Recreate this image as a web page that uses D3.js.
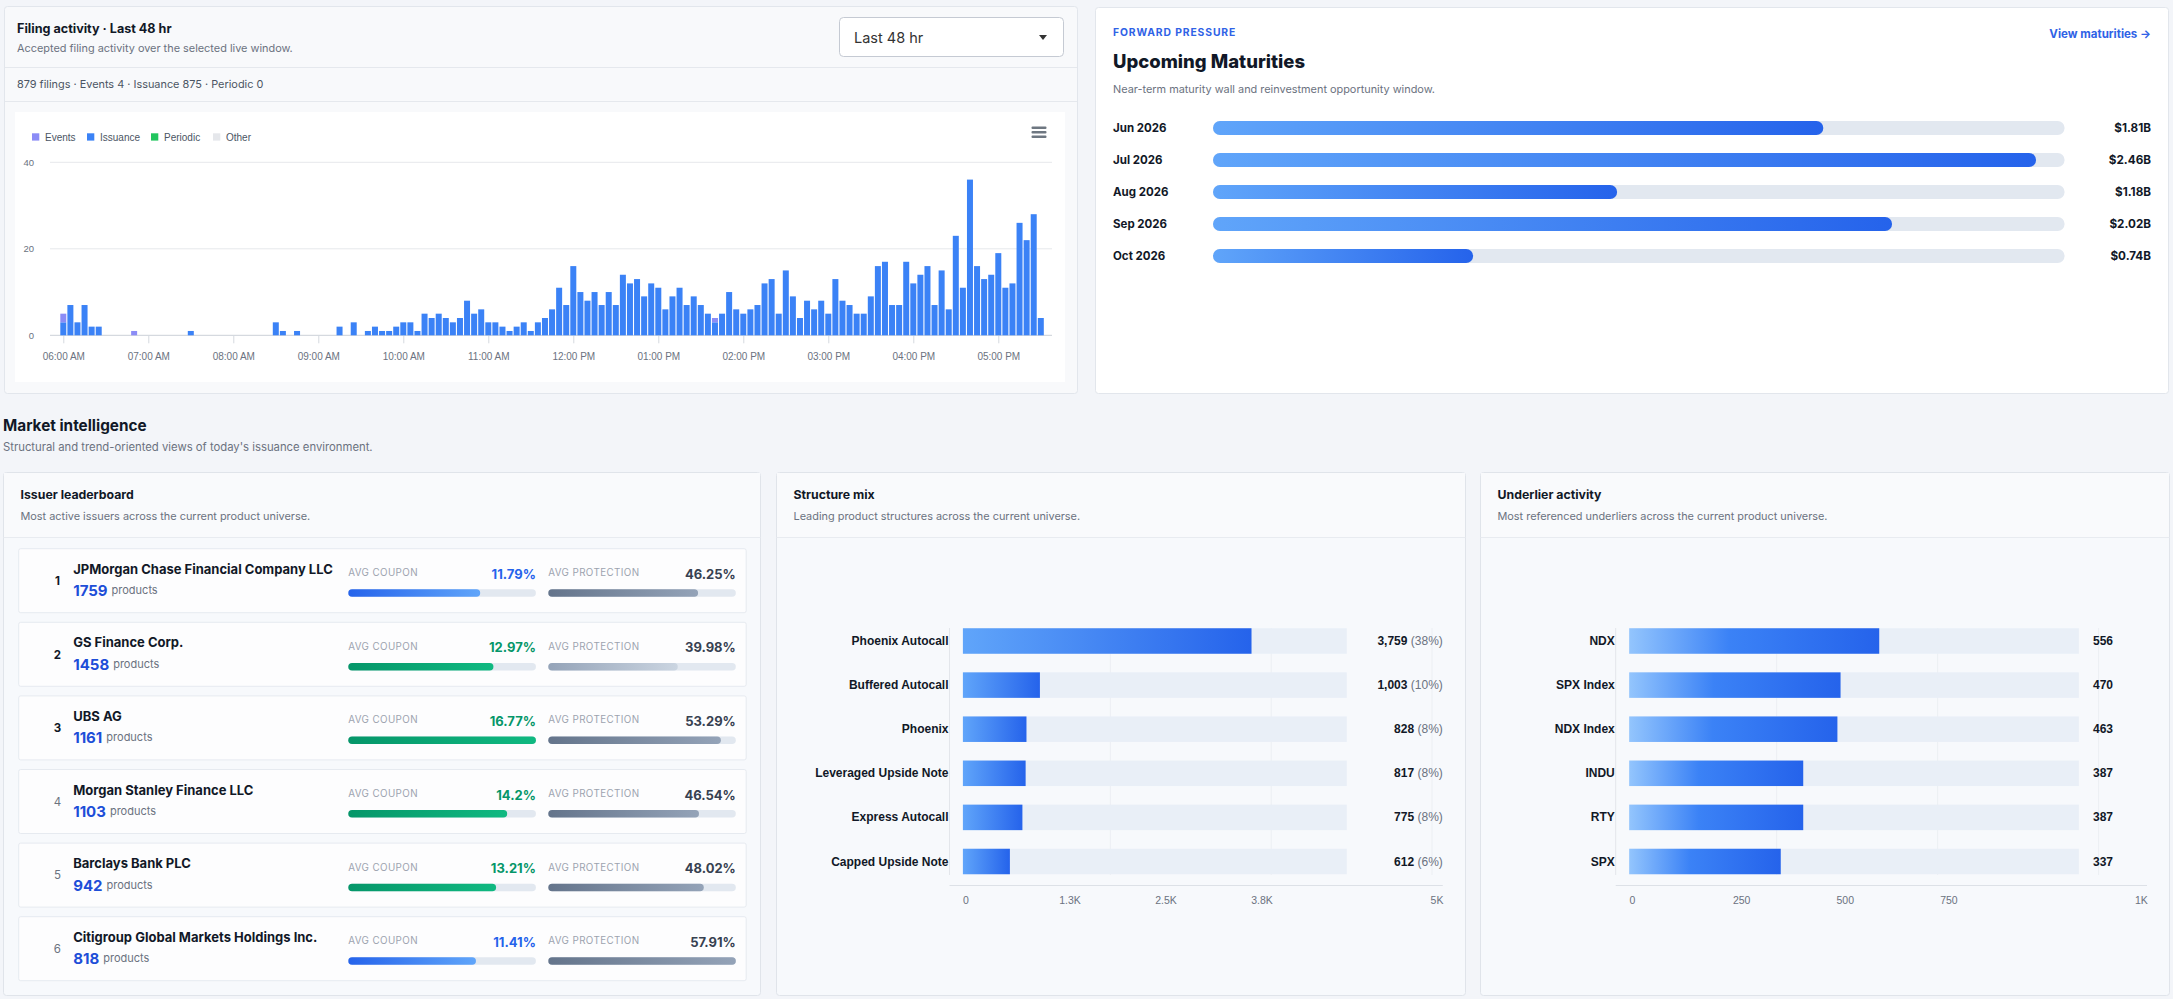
<!DOCTYPE html>
<html><head><meta charset="utf-8">
<script src="https://cdn.jsdelivr.net/npm/d3@7"></script>
<style>
html,body{margin:0;padding:0;background:#f3f5f9;overflow:hidden;}
svg{display:block;font-family:Inter,"Noto Sans",sans-serif;}
</style></head><body>
<svg id="c" width="2173" height="999"></svg>
<script>
// ---------------- DATA ----------------
const filingStart = "06:00";            // first 5-minute bin
const filingBinMinutes = 5;
const filingIssuance = [
  3,7,3,7,2,2, 0,0,0,0,0,0,0,0,0,0,0,0, 1, 0,0,0,0,0,0,0,0,0,0,0, 3,1,0,1, 0,0,0,0,0,
  2,0,3,0,1,2,1,1,2,
  3,3,1,5,4,5,4,3,4,8,5,6,3,3,2,1,2,3,1,3,4,6,11,7,16,10,8,10,7,
  10,7,14,12,13,9,12,11,6,9,11,7,9,7,5,3,5,10,6,5,6,7,12,13,5,15,9,4,8,6,8,5,13,8,7,5,5,
  9,16,17,7,7,17,12,14,16,7,15,6,23,11,36,16,13,14,19,11,12,26,22,28,4
];
const filingEvents = [
  2,0,0,0,0,0,0,0,0,0,1,0,0,0,0,0,0,0,0,0,0,0,0,0,0,0,0,0,0,0,0,0,0,0,0,0,0,0,0,
  0,0,0,0,0,0,0,0,0,
  0,0,0,0,0,0,0,0,0,0,0,0,0,0,0,0,0,0,0,0,0,0,0,0,0,0,0,0,0,
  0,0,0,0,0,0,0,0,0,0,0,0,0,0,0,1,0,0,0,0,0,0,0,0,0,0,0,0,0,0,0,0,0,0,0,0,0,
  0,0,0,0,0,0,0,0,0,0,0,0,0,0,0,0,0,0,0,0,0,0,0,0,0
];
const filingSeries = ["Events","Issuance","Periodic","Other"];
const filingSeriesColors = ["#8b8cf6","#3b82f6","#22c55e","#e5e7eb"];
const filingYTicks = [0,20,40];
const filingXTicks = ["06:00","07:00","08:00","09:00","10:00","11:00","12:00","13:00","14:00","15:00","16:00","17:00"];
const filingStats = {filings:879, events:4, issuance:875, periodic:0};

const maturityMonths = ["Jun 2026","Jul 2026","Aug 2026","Sep 2026","Oct 2026"];
const maturityValues = [1.81,2.46,1.18,2.02,0.74]; // $B

const issuerNames = ["JPMorgan Chase Financial Company LLC","GS Finance Corp.","UBS AG","Morgan Stanley Finance LLC","Barclays Bank PLC","Citigroup Global Markets Holdings Inc."];
const issuerProducts = [1759,1458,1161,1103,942,818];
const issuerCoupon = [11.79,12.97,16.77,14.2,13.21,11.41];
const issuerProtection = [46.25,39.98,53.29,46.54,48.02,57.91];

const structureNames = ["Phoenix Autocall","Buffered Autocall","Phoenix","Leveraged Upside Note","Express Autocall","Capped Upside Note"];
const structureCounts = [3759,1003,828,817,775,612];
const structurePct = [38,10,8,8,8,6];
const structureTicks = [0,1250,2500,3750,5000];

const underlierNames = ["NDX","SPX Index","NDX Index","INDU","RTY","SPX"];
const underlierCounts = [556,470,463,387,387,337];
const underlierTicks = [0,250,500,750,1000];

// ---------------- HELPERS ----------------
const CHART_FONT = "'Liberation Sans',Arial,Helvetica,sans-serif";
const svg = d3.select("#c");
const defs = svg.append("defs");
function grad(id, stops){
  const g = defs.append("linearGradient").attr("id",id).attr("x1","0%").attr("x2","100%").attr("y1","0%").attr("y2","0%");
  stops.forEach(s=>g.append("stop").attr("offset",s[0]).attr("stop-color",s[1]));
}
grad("gBlueR",[["0%","#60a5fa"],["100%","#2563eb"]]);
grad("gUnder",[["0%","#93c5fd"],["40%","#3b82f6"],["100%","#2563eb"]]);
grad("gCouponBlue",[["0%","#2563eb"],["100%","#60a5fa"]]);
grad("gCouponGreen",[["0%","#059669"],["100%","#10b981"]]);
grad("gProt",[["0%","#64748b"],["100%","#94a3b8"]]);
grad("gProtLight",[["0%","#94a3b8"],["100%","#cbd5e1"]]);

function txt(g,x,y,s,o){
  o=o||{};
  const t = g.append("text").attr("x",x).attr("y",y).attr("dominant-baseline","central")
    .attr("font-size",o.size||11).attr("font-weight",o.weight||400).attr("fill",o.fill||"#111827")
    .attr("text-anchor",o.anchor||"start").attr("letter-spacing",o.ls||null).text(s);
  if(o.font) t.attr("font-family",o.font);
  return t;
}
function line(g,x1,y1,x2,y2,c,w){
  return g.append("line").attr("x1",x1).attr("y1",y1).attr("x2",x2).attr("y2",y2).attr("stroke",c).attr("stroke-width",w||1);
}

// ---------------- FILING ACTIVITY CARD ----------------
const fa = svg.append("g");
fa.append("rect").attr("x",4.5).attr("y",6.5).attr("width",1073).attr("height",387).attr("rx",3)
  .attr("fill","#f8f9fb").attr("stroke","#e2e6ec");
txt(fa,17,28.5,"Filing activity · Last 48 hr",{size:12.6,weight:700});
txt(fa,17,48,"Accepted filing activity over the selected live window.",{size:10.9,fill:"#6b7280"});
// dropdown
fa.append("rect").attr("x",839.5).attr("y",17.5).attr("width",224).attr("height",39).attr("rx",4)
  .attr("fill","#fff").attr("stroke","#c5cad3");
txt(fa,854,37.5,"Last 48 hr",{size:14.5,fill:"#333"});
fa.append("path").attr("d","M1039,35 L1047,35 L1043,40 Z").attr("fill","#333");
line(fa,5,67.5,1077,67.5,"#e5e8ed");
txt(fa,17,84,`${filingStats.filings} filings · Events ${filingStats.events} · Issuance ${filingStats.issuance} · Periodic ${filingStats.periodic}`,{size:10.9,fill:"#4b5563"});
line(fa,5,101.5,1077,101.5,"#e5e8ed");
fa.append("rect").attr("x",15).attr("y",112).attr("width",1050).attr("height",270).attr("fill","#fff");

// legend
const legX = [32,87,151,213];
filingSeries.forEach((s,i)=>{
  fa.append("rect").attr("x",legX[i]).attr("y",133.3).attr("width",7.3).attr("height",7.3).attr("fill",filingSeriesColors[i]);
  txt(fa,legX[i]+13,137,s,{size:10,fill:"#4b5563",font:CHART_FONT});
});
// menu icon
[126.5,131,135.5].forEach(yy=>fa.append("rect").attr("x",1031.5).attr("y",yy).attr("width",15).attr("height",2.6).attr("rx",1).attr("fill","#6e7781"));

const parseT = d3.timeParse("%H:%M");
const t0 = parseT(filingStart);
const binTimes = filingIssuance.map((d,i)=>d3.timeMinute.offset(t0,i*filingBinMinutes));
const fx = d3.scaleTime().domain([t0, binTimes[binTimes.length-1]]).range([63.3,1040.8]);
const fy = d3.scaleLinear().domain([0,40]).range([335.3,162.3]);

// gridlines
filingYTicks.forEach(v=>{
  line(fa,50,fy(v),1052,fy(v), v===0?"#d5d9df":"#e6e8ec", v===0?1.2:1);
  txt(fa,34,fy(v),String(v),{size:9.5,fill:"#6b7280",anchor:"end",font:CHART_FONT});
});
// x axis
const xAxisG = fa.append("g").attr("transform",`translate(0,${fy(0)})`)
  .call(d3.axisBottom(fx).tickValues(filingXTicks.map(parseT)).tickSize(8).tickFormat(d3.timeFormat("%I:%M %p")));
xAxisG.select(".domain").remove();
xAxisG.selectAll(".tick line").attr("stroke","#d5d9df");
xAxisG.selectAll(".tick text").attr("y",21.4).attr("dy","0.35em").attr("font-size",10)
  .attr("fill","#6b7280").attr("font-family",CHART_FONT);

// bars
const bw = 6;
fa.append("g").selectAll("rect").data(filingIssuance).join("rect")
  .attr("x",(d,i)=>fx(binTimes[i])-bw/2).attr("width",bw)
  .attr("y",d=>fy(d)).attr("height",d=>fy(0)-fy(d)).attr("fill",filingSeriesColors[1]);
fa.append("g").selectAll("rect").data(filingEvents).join("rect")
  .attr("x",(d,i)=>fx(binTimes[i])-bw/2).attr("width",bw)
  .attr("y",(d,i)=>fy(d+filingIssuance[i])).attr("height",(d,i)=>fy(filingIssuance[i])-fy(d+filingIssuance[i]))
  .attr("fill",filingSeriesColors[0]);

// ---------------- UPCOMING MATURITIES CARD ----------------
const um = svg.append("g");
um.append("rect").attr("x",1095.5).attr("y",7.5).attr("width",1073).attr("height",386).attr("rx",3)
  .attr("fill","#fff").attr("stroke","#e2e6ec");
txt(um,1113,32,"FORWARD PRESSURE",{size:10.3,weight:700,fill:"#2f62e6",ls:"0.9"});
txt(um,2151,34,"View maturities →",{size:11.5,weight:700,fill:"#2f62e6",anchor:"end"});
txt(um,1113,61,"Upcoming Maturities",{size:18.5,weight:800});
txt(um,1113,89,"Near-term maturity wall and reinvestment opportunity window.",{size:10.9,fill:"#6b7280"});
const my = d3.scalePoint().domain(maturityMonths).range([128,256]);
const trackX0 = 1213, trackX1 = 2064.6;
const mx = d3.scaleLinear().domain([0,2.6]).range([1230.9,2081.9]);
maturityMonths.forEach((m,i)=>{
  const yc = my(m);
  txt(um,1113,yc,m,{size:11.5,weight:700});
  um.append("rect").attr("x",trackX0).attr("y",yc-7).attr("width",trackX1-trackX0).attr("height",14).attr("rx",7).attr("fill","#e2e8f0");
  um.append("rect").attr("x",trackX0).attr("y",yc-7).attr("width",mx(maturityValues[i])-trackX0).attr("height",14).attr("rx",7).attr("fill","url(#gBlueR)");
  txt(um,2151,yc,"$"+maturityValues[i].toFixed(2)+"B",{size:11.7,weight:700,anchor:"end"});
});

// ---------------- MARKET INTELLIGENCE ----------------
const mi = svg.append("g");
txt(mi,3,425,"Market intelligence",{size:15.3,weight:700});
txt(mi,3,446.5,"Structural and trend-oriented views of today's issuance environment.",{size:11.3,fill:"#6b7280"});

function bottomCard(x,w,title,sub){
  const g = svg.append("g");
  g.append("rect").attr("x",x).attr("y",472.5).attr("width",w).attr("height",523).attr("rx",3)
    .attr("fill","#f7f9fc").attr("stroke","#e0e4ea");
  g.append("rect").attr("x",x+0.5).attr("y",473).attr("width",w-1).attr("height",64).attr("fill","#f9fafc");
  line(g,x,537.5,x+w,537.5,"#e8ebf0");
  txt(g,x+17,494.5,title,{size:12.3,weight:700});
  txt(g,x+17,516,sub,{size:10.9,fill:"#6b7280"});
  return g;
}

// Issuer leaderboard
const il = bottomCard(3.5,757,"Issuer leaderboard","Most active issuers across the current product universe.");
const rowY = d3.scalePoint().domain(d3.range(issuerNames.length)).range([548.7,916.7]);
const cX = d3.scaleLinear().domain([0,d3.max(issuerCoupon)]).range([348.3,535.9]);
const pX = d3.scaleLinear().domain([0,d3.max(issuerProtection)]).range([548.3,735.8]);
issuerNames.forEach((n,i)=>{
  const t = rowY(i);
  il.append("rect").attr("x",18.7).attr("y",t).attr("width",727.5).attr("height",64).attr("rx",2)
    .attr("fill","#fdfdfe").attr("stroke","#e6eaf0");
  txt(il,57.4,t+32.3,String(i+1),{size:11.5,weight:i<3?700:400,fill:i<3?"#111827":"#6b7280",anchor:"middle"});
  txt(il,73.2,t+20,n,{size:13,weight:700});
  const pt = il.append("text").attr("x",73.2).attr("y",t+41.5).attr("dominant-baseline","central");
  pt.append("tspan").attr("font-size",15).attr("font-weight",700).attr("fill","#1d4ed8").text(issuerProducts[i]);
  pt.append("tspan").attr("dx",4).attr("font-size",11).attr("fill","#6b7280").text("products");
  const cBlue = issuerCoupon[i] < 12;
  txt(il,348.3,t+24,"AVG COUPON",{size:9.8,fill:"#9ca3af",ls:"0.4"});
  txt(il,535.9,t+25,issuerCoupon[i]+"%",{size:13,weight:700,fill:cBlue?"#2563eb":"#059669",anchor:"end"});
  il.append("rect").attr("x",cX(0)).attr("y",t+40.6).attr("width",cX(d3.max(issuerCoupon))-cX(0)).attr("height",7.5).attr("rx",3.75).attr("fill","#e2e8f0");
  il.append("rect").attr("x",cX(0)).attr("y",t+40.6).attr("width",cX(issuerCoupon[i])-cX(0)).attr("height",7.5).attr("rx",3.75)
    .attr("fill",cBlue?"url(#gCouponBlue)":"url(#gCouponGreen)");
  txt(il,548.3,t+24,"AVG PROTECTION",{size:9.8,fill:"#9ca3af",ls:"0.4"});
  txt(il,735.8,t+25,issuerProtection[i]+"%",{size:13,weight:700,fill:"#374151",anchor:"end"});
  il.append("rect").attr("x",pX(0)).attr("y",t+40.6).attr("width",pX(d3.max(issuerProtection))-pX(0)).attr("height",7.5).attr("rx",3.75).attr("fill","#e2e8f0");
  il.append("rect").attr("x",pX(0)).attr("y",t+40.6).attr("width",pX(issuerProtection[i])-pX(0)).attr("height",7.5).attr("rx",3.75)
    .attr("fill",issuerProtection[i]<40?"url(#gProtLight)":"url(#gProt)");
});

function fmtK(v){ return v>=1000 ? (Math.round(v/100)/10)+"K" : String(v); }

// generic horizontal bar chart
function hbar(g,o){
  const y = d3.scalePoint().domain(o.names).range([641,861.5]);
  const x = d3.scaleLinear().domain([0,o.max]).range([o.x0,o.x1]);
  const grid = d3.scaleLinear().domain([0,3]).range([o.axisX,o.gridEnd]);
  d3.range(4).forEach(k=>line(g,grid(k),628,grid(k),875,k===0?"#e3e6eb":"#eceff3"));
  line(g,o.axisX,885.5,o.axisEnd,885.5,"#dde1e7");
  const bh = 25.5;
  o.names.forEach((n,i)=>{
    const yc = y(n);
    g.append("rect").attr("x",x(0)).attr("y",yc-bh/2).attr("width",x(o.max)-x(0)).attr("height",bh).attr("fill","#e9eff7");
    g.append("rect").attr("x",x(0)).attr("y",yc-bh/2).attr("width",x(o.values[i])-x(0)).attr("height",bh).attr("fill",o.fill);
    txt(g,o.labelX,yc,n,{size:12,weight:700,anchor:"end",font:CHART_FONT,fill:"#111827"});
    const vt = g.append("text").attr("x",o.valX).attr("y",yc).attr("dominant-baseline","central")
      .attr("text-anchor",o.valAnchor).attr("font-family",CHART_FONT);
    vt.append("tspan").attr("font-size",12).attr("font-weight",700).attr("fill","#111827").text(d3.format(",")(o.values[i]));
    if(o.pct) vt.append("tspan").attr("font-size",12).attr("fill","#6b7280").text(" ("+o.pct[i]+"%)");
  });
  const tp = d3.scaleLinear().domain(o.tickDom).range(o.tickRange);
  o.ticks.forEach(v=>txt(g,tp(v),900,fmtK(v),{size:10.5,fill:"#6b7280",anchor:"middle",font:CHART_FONT}));
}

const sm = bottomCard(776.5,689,"Structure mix","Leading product structures across the current universe.");
hbar(sm,{names:structureNames,values:structureCounts,pct:structurePct,max:5000,x0:962.9,x1:1346.8,
  axisX:949.5,gridEnd:1432,axisEnd:1442.8,labelX:948.5,valX:1442.8,valAnchor:"end",fill:"url(#gBlueR)",
  ticks:structureTicks,tickDom:[0,1250,3750,5000],tickRange:[966,1070,1262,1437]});

const ua = bottomCard(1480.5,689,"Underlier activity","Most referenced underliers across the current product universe.");
hbar(ua,{names:underlierNames,values:underlierCounts,pct:null,max:1000,x0:1629.2,x1:2078.9,
  axisX:1615.7,gridEnd:2098.6,axisEnd:2147,labelX:1614.8,valX:2093,valAnchor:"start",fill:"url(#gUnder)",
  ticks:underlierTicks,tickDom:[0,250,750,1000],tickRange:[1632.3,1741.7,1948.9,2141.3]});
</script>
</body></html>
